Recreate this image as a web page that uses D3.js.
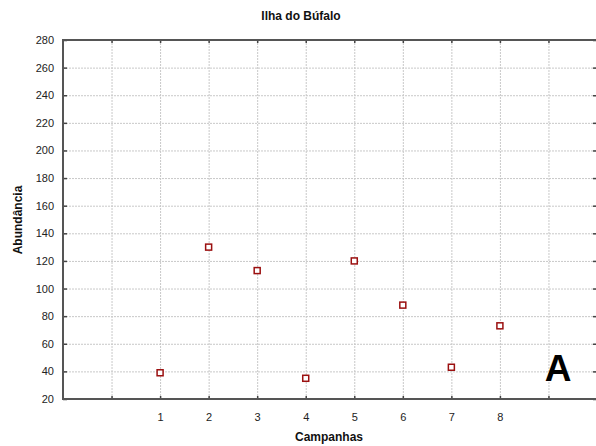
<!DOCTYPE html>
<html><head><meta charset="utf-8">
<script src="https://cdn.jsdelivr.net/npm/d3@7"></script>
<style>body{margin:0;background:#fff;overflow:hidden}svg{display:block}</style>
</head><body>
<script>
const campaigns = [1,2,3,4,5,6,7,8];
const abundance = [39,130,113,35,120,88,43,73];
const yTicks = [20,40,60,80,100,120,140,160,180,200,220,240,260,280];
const xTicks = [1,2,3,4,5,6,7,8];
const xGrid = [0,1,2,3,4,5,6,7,8,9];

const W=596,H=446;
const svg=d3.select("body").append("svg").attr("width",W).attr("height",H);
const L=63,R=597,T=40,B=399;
const x=d3.scaleLinear().domain([-1,10]).range([L,R]);
const y=d3.scaleLinear().domain([20,280]).range([B,T]);
const font="Arial, 'Liberation Sans', sans-serif";

// grid
svg.append("g").selectAll("line").data(yTicks.slice(1,-1)).join("line")
 .attr("x1",L).attr("x2",R).attr("y1",d=>y(d)+0.5).attr("y2",d=>y(d)+0.5)
 .attr("stroke","#c8c8c8").attr("stroke-dasharray","2,1");
svg.append("g").selectAll("line").data(xGrid).join("line")
 .attr("y1",T).attr("y2",B).attr("x1",d=>x(d)+0.5).attr("x2",d=>x(d)+0.5)
 .attr("stroke","#c8c8c8").attr("stroke-dasharray","2,1");

// axes
const yAxis=d3.axisLeft(y).tickValues(yTicks).tickSize(-4).tickPadding(9);
const gy=svg.append("g").attr("transform",`translate(${L},0)`).call(yAxis);
gy.selectAll("text").attr("font-family",font).attr("font-size",11).attr("fill","#222");
gy.select(".domain").remove();
gy.selectAll(".tick line").attr("stroke","#444").attr("stroke-width",1.5);
const yAxisR=d3.axisRight(y).tickValues(yTicks).tickSize(-4).tickFormat("");
const gyr=svg.append("g").attr("transform",`translate(${R},0)`).call(yAxisR);
gyr.select(".domain").remove();
gyr.selectAll(".tick line").attr("stroke","#444").attr("stroke-width",1.5);

const xAxis=d3.axisBottom(x).tickValues(xTicks).tickSize(0).tickPadding(14);
const gx=svg.append("g").attr("transform",`translate(0,${B})`).call(xAxis);
gx.select(".domain").remove();
gx.selectAll("text").attr("font-family",font).attr("font-size",11).attr("fill","#222");
const xTickMarks=d3.axisBottom(x).tickValues(xGrid).tickSize(-3).tickFormat("");
const gxm=svg.append("g").attr("transform",`translate(0,${B})`).call(xTickMarks);
gxm.select(".domain").remove();
gxm.selectAll(".tick line").attr("stroke","#444").attr("stroke-width",1.5);
const gxt=svg.append("g").attr("transform",`translate(0,${T})`).call(d3.axisTop(x).tickValues(xGrid).tickSize(-3).tickFormat(""));
gxt.select(".domain").remove();
gxt.selectAll(".tick line").attr("stroke","#444").attr("stroke-width",1.5);

// frame
svg.append("rect").attr("x",L).attr("y",T).attr("width",R-L).attr("height",B-T)
 .attr("fill","none").attr("stroke","#555").attr("stroke-width",2);

// points
svg.append("g").selectAll("rect").data(campaigns.map((c,i)=>({c,v:abundance[i]}))).join("rect")
 .attr("x",d=>x(d.c)-3).attr("y",d=>y(d.v)-3).attr("width",6).attr("height",6)
 .attr("fill","#fff").attr("stroke","#9b1010").attr("stroke-width",1.5);

// texts
svg.append("text").attr("x",301).attr("y",20).attr("text-anchor","middle")
 .attr("font-family",font).attr("font-weight","bold").attr("font-size",12).attr("fill","#111").text("Ilha do Búfalo");
svg.append("text").attr("x",329).attr("y",441).attr("text-anchor","middle")
 .attr("font-family",font).attr("font-weight","bold").attr("font-size",12).attr("fill","#111").text("Campanhas");
svg.append("text").attr("transform","translate(22,220) rotate(-90)").attr("text-anchor","middle")
 .attr("font-family",font).attr("font-weight","bold").attr("font-size",12).attr("fill","#111").text("Abundância");
svg.append("text").attr("x",558).attr("y",381).attr("text-anchor","middle")
 .attr("font-family",font).attr("font-weight","bold").attr("font-size",37).attr("fill","#000").text("A");
</script>
</body></html>
